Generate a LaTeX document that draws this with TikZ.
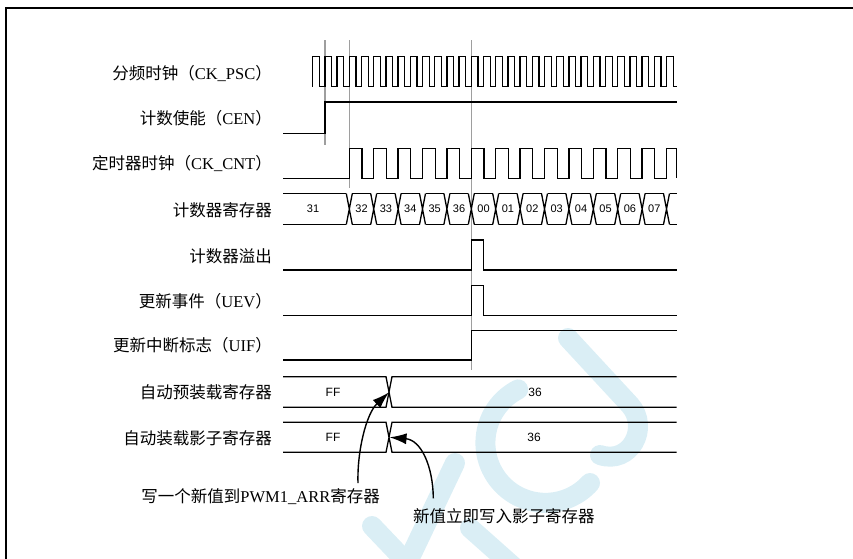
\documentclass[tikz,border=0pt]{standalone}
\usepackage{fontspec}
\setmainfont{Liberation Serif}
\newfontfamily\cjk{Noto Sans CJK SC}
\newfontfamily\arialf{Liberation Sans}
\usetikzlibrary{arrows.meta}
\definecolor{wm}{RGB}{218,238,245}
\begin{document}
\begin{tikzpicture}[x=1pt,y=-1pt,
  wave/.style={line width=1.3pt, line join=miter},
  guide/.style={line width=1.2pt, draw=black!38},
  lab/.style={anchor=east, inner sep=0pt, font=\fontsize{16.5}{18}\selectfont},
  val/.style={inner sep=0pt, font=\arialf\fontsize{11}{12}\selectfont},
  bigval/.style={inner sep=0pt, font=\arialf\fontsize{12}{13}\selectfont},
  note/.style={inner sep=0pt, font=\fontsize{16.5}{18}\selectfont},
  callout/.style={line width=1.4pt, -{Latex[length=17pt,width=11pt]}},
  wmband/.style={line width=20pt, draw=wm, line cap=round}]
\useasboundingbox (0,0) rectangle (853,558);
% watermark (MCU)
\draw[wmband] (568,338) -- (630,405) .. controls (650,428) and (630,465) .. (600,455);
\draw[wmband] (590,483) arc[start angle=42, end angle=243, radius=60];
\draw[wmband] (455,463) -- (405,568);
\draw[wmband] (372,526) -- (412,568);
\draw[wmband] (470,528) -- (515,568);
% frame
\draw[line width=2.3pt] (6,562) -- (6,7.8) -- (857,7.8);
% guides
\coordinate (g1t) at (325,40);   \coordinate (g1b) at (325,145);
\coordinate (g2t) at (349.3,40); \coordinate (g2b) at (349.3,188);
\coordinate (g3t) at (471.3,40); \coordinate (g3b) at (471.3,370);
\draw[guide] (g1t) -- (g1b);
\draw[guide] (g2t) -- (g2b);
\draw[guide] (g3t) -- (g3b);
% labels
\node[lab] (lpsc) at (272,73.3) {{\cjk 分频时钟（}CK\_PSC{\cjk ）}};
\node[lab] (lcen) at (272,118.3) {{\cjk 计数使能（}CEN{\cjk ）}};
\node[lab] (lcnt) at (272,163.3) {{\cjk 定时器时钟（}CK\_CNT{\cjk ）}};
\node[lab] (lreg) at (272,210) {\cjk 计数器寄存器};
\node[lab] (lovf) at (272,256.7) {\cjk 计数器溢出};
\node[lab] (luev) at (272,301.7) {{\cjk 更新事件（}UEV{\cjk ）}};
\node[lab] (luif) at (272,345) {{\cjk 更新中断标志（}UIF{\cjk ）}};
\node[lab] (larr) at (272,392.3) {\cjk 自动预装载寄存器};
\node[lab] (lsh) at (272,438.3) {\cjk 自动装载影子寄存器};
% CK_PSC
\draw[wave] (312.7,86.7) \foreach \k in {0,...,28} { -- ++(0,-30) -- ++(6.7,0) -- ++(0,30) -- ++(5.5,0) } -- ++(0,-30) -- ++(6.7,0) -- ++(0,30) -- (676.7,86.7);
% CEN
\draw[wave] (283,133.3) -- (325,133.3) -- (325,102) -- (676.7,102);
% CK_CNT
\draw[wave] (283,178.3) -- (349.3,178.3) \foreach \k in {0,...,12} { -- ++(0,-30) -- ++(12.7,0) -- ++(0,30) -- ++(11.7,0) } -- ++(0,-30) -- (676.7,148.3) -- (676.7,178.3);
% counter register
\draw[wave] (283,193.5) -- (346.3,193.5) (283,224.5) -- (346.3,224.5);
\foreach \k in {0,...,13} {
  \draw[wave] ({349.3+24.4*\k-3},193.5) -- ({349.3+24.4*\k+3},224.5)
              ({349.3+24.4*\k-3},224.5) -- ({349.3+24.4*\k+3},193.5);
}
\foreach \k in {0,...,12} {
  \draw[wave] ({349.3+24.4*\k+3},193.5) -- ({349.3+24.4*\k+21.4},193.5)
              ({349.3+24.4*\k+3},224.5) -- ({349.3+24.4*\k+21.4},224.5);
}
\draw[wave] (669.5,193.5) -- (676.7,193.5) (669.5,224.5) -- (676.7,224.5);
\node[val] (c31) at (313,209) {31};
\foreach \v [count=\i from 0] in {32,33,34,35,36,00,01,02,03,04,05,06,07} {
  \node[val] (c\i) at ({349.3+24.4*\i+12.2},209) {\v};
}
% overflow
\draw[wave] (283,270) -- (471.3,270) -- (471.3,240) -- (483.5,240) -- (483.5,270) -- (676.7,270);
% UEV
\draw[wave] (283,315.7) -- (471.3,315.7) -- (471.3,285.7) -- (483.5,285.7) -- (483.5,315.7) -- (676.7,315.7);
% UIF
\draw[wave] (283,360) -- (471.3,360) -- (471.3,330.7) -- (676.7,330.7);
% ARR preload
\draw[wave] (283,376.7) -- (386,376.7) -- (392,407.3) -- (676.7,407.3)
            (283,407.3) -- (386,407.3) -- (392,376.7) -- (676.7,376.7);
\node[bigval] (pff) at (333,392) {FF};
\node[bigval] (p36) at (535,392) {36};
% shadow
\draw[wave] (283,422.3) -- (386,422.3) -- (392,452.3) -- (676.7,452.3)
            (283,452.3) -- (386,452.3) -- (392,422.3) -- (676.7,422.3);
\node[bigval] (sff) at (333,437.3) {FF};
\node[bigval] (s36) at (534,437.3) {36};
% notes
\node[note, anchor=east] (n1) at (380,497) {{\cjk 写一个新值到}PWM1\_ARR{\cjk 寄存器}};
\node[note, anchor=west] (n2) at (413,516) {\cjk 新值立即写入影子寄存器};
\coordinate (a1s) at (358,483);
\coordinate (a1e) at (389,392.3);
\coordinate (a2s) at (433.3,498.3);
\coordinate (a2e) at (389.5,437.3);
\draw[callout] (a1s) .. controls (357,452) and (366,414) .. (a1e);
\draw[callout] (a2s) .. controls (433,466) and (421,440) .. (a2e);
\end{tikzpicture}
\end{document}
